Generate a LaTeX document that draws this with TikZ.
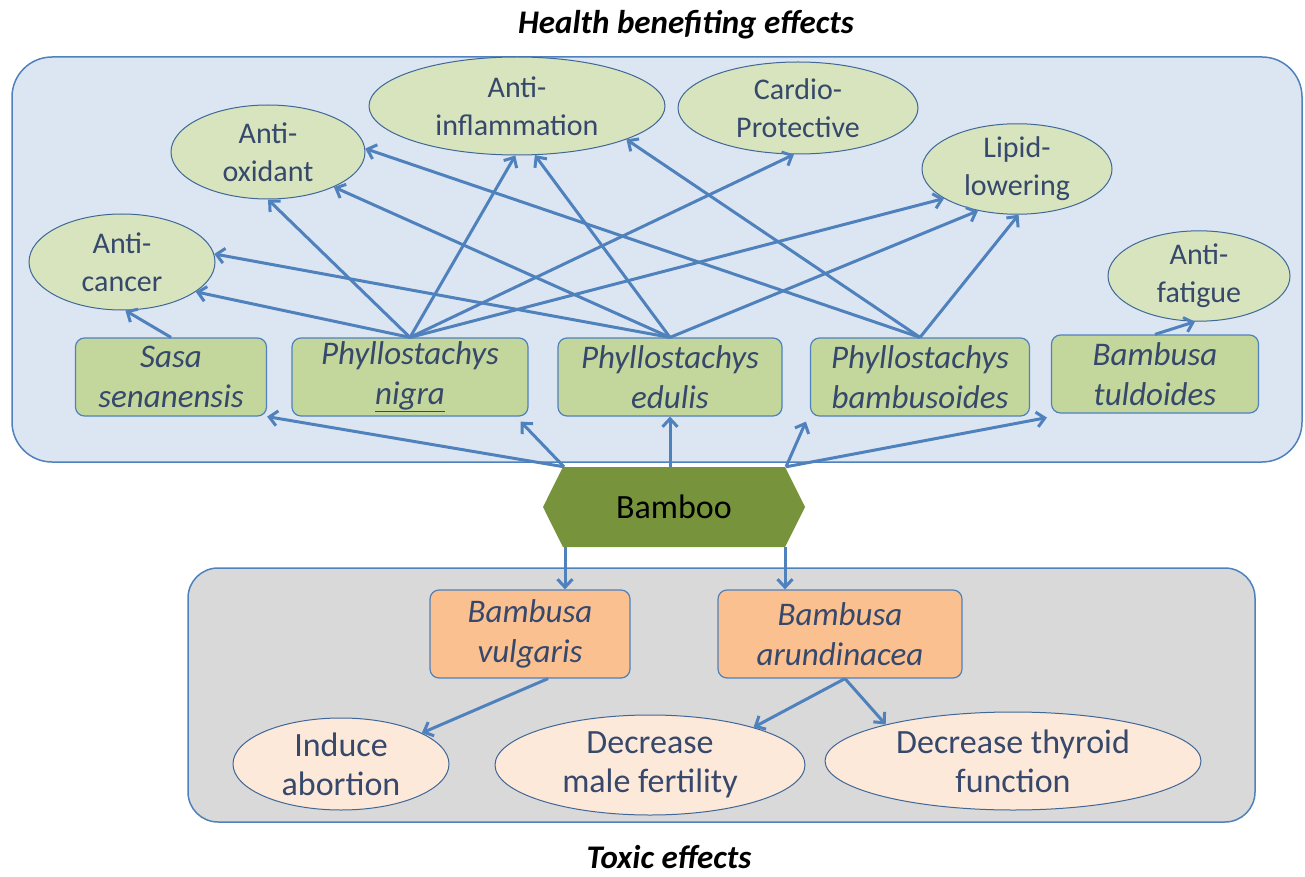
\documentclass[tikz,border=0pt]{standalone}
\usepackage{fontspec}
\setmainfont{Carlito}
\usetikzlibrary{shapes.geometric, shapes.symbols, arrows.meta, calc}

\definecolor{topfill}{HTML}{DCE6F2}
\definecolor{botfill}{HTML}{D9D9D9}
\definecolor{frameblue}{HTML}{4F81BD}
\definecolor{effgreen}{HTML}{D7E4BD}
\definecolor{spgreen}{HTML}{C3D69B}
\definecolor{sporange}{HTML}{FAC090}
\definecolor{toxpeach}{HTML}{FDE9D9}
\definecolor{bamboogreen}{HTML}{77933C}
\definecolor{txt}{HTML}{36486B}

\begin{document}
\begin{tikzpicture}[x=1pt, y=-1pt]
        \tikzstyle{panel} = [draw = frameblue, line width = 1.5pt]
        \tikzstyle{effect} = [ellipse, draw = frameblue!80!black, line width = 1pt, fill = effgreen, text = txt, align = center, inner sep = 0pt, font = \fontsize{30}{38}\selectfont]
        \tikzstyle{toxic} = [effect, fill = toxpeach, font = \fontsize{34}{39}\selectfont]
        \tikzstyle{species} = [rectangle, rounded corners = 9pt, draw = frameblue, line width = 1.2pt, fill = spgreen, text = txt, align = center, minimum height = 78pt, inner sep = 0pt, font = \fontsize{33}{40}\selectfont\itshape]
        \tikzstyle{harmful} = [species, fill = sporange, minimum height = 88pt]
        \tikzstyle{title} = [font = \fontsize{33}{36}\selectfont\bfseries\itshape]
        \tikzstyle{connect} = [-{Straight Barb[length = 8pt, width = 15pt]}, line width = 3pt, draw = frameblue]
        \useasboundingbox (0,0) rectangle (1305,877);
        % panels
        \draw[panel, fill = topfill, rounded corners = 40pt] (12,57) rectangle (1302,462);
        \draw[panel, fill = botfill, rounded corners = 30pt] (188,568) rectangle (1255,822);
        \node[title] (health) at (686,25) {Health benefiting effects};
        \node[title] (toxiceff) at (669,857) {Toxic effects};
        % health effects
        \node[effect, minimum width = 186pt, minimum height = 96pt] (anticancer) at (122,262) {Anti-\\cancer};
        \node[effect, minimum width = 194pt, minimum height = 94pt] (antioxidant) at (268,152) {Anti-\\oxidant};
        \node[effect, minimum width = 296pt, minimum height = 98pt] (antiinflam) at (517,106) {Anti-\\inflammation};
        \node[effect, minimum width = 240pt, minimum height = 92pt] (cardio) at (798,108) {Cardio-\\Protective};
        \node[effect, minimum width = 190pt, minimum height = 86pt] (lipid) at (1017,169) {Lipid-\\lowering};
        \node[effect, minimum width = 182pt, minimum height = 88pt] (antifatigue) at (1199,276) {Anti-\\fatigue};
        % species
        \node[species, minimum width = 191pt] (sasa) at (171,377) {Sasa\\senanensis};
        \node[species, minimum width = 236pt] (nigra) at (410,377) {Phyllostachys\\\underline{nigra}};
        \node[species, minimum width = 224pt] (edulis) at (670,377) {Phyllostachys\\edulis};
        \node[species, minimum width = 219pt] (bambusoides) at (920,377) {Phyllostachys\\bambusoides};
        \node[species, minimum width = 207pt] (tuldoides) at (1155,374) {Bambusa\\tuldoides};
        % bamboo
        \node[signal, signal to = west and east, signal pointer angle = 127, fill = bamboogreen, minimum width = 262pt, minimum height = 80pt, font = \fontsize{34}{38}\selectfont] (bamboo) at (674,507) {Bamboo};
        \coordinate (bnw) at ($(bamboo.north)+(-110,0)$);
        \coordinate (bne) at ($(bamboo.north)+(112,0)$);
        \coordinate (bn) at (edulis.south |- bamboo.north);
        \coordinate (bsw) at ($(bamboo.south)+(-109,0)$);
        \coordinate (bse) at ($(bamboo.south)+(111,0)$);
        % toxic side
        \node[harmful, minimum width = 200pt] (vulgaris) at (530,634) {Bambusa\\vulgaris};
        \node[harmful, minimum width = 244pt] (arundinacea) at (840,634) {Bambusa\\arundinacea};
        \node[toxic, minimum width = 216pt, minimum height = 92pt] (abortion) at (341,764) {Induce\\abortion};
        \node[toxic, minimum width = 310pt, minimum height = 100pt] (fertility) at (650,765) {Decrease\\male fertility};
        \node[toxic, minimum width = 376pt, minimum height = 98pt] (thyroid) at (1013,761) {Decrease thyroid\\function};
        % connections
        \path (bnw) edge [connect] (sasa.south east)
              (bnw) edge [connect] ($(nigra.south east)+(-8,5)$)
              (bn) edge [connect] (edulis.south)
              (bne) edge [connect] ($(bambusoides.south west)+(-4,5)$)
              (bne) edge [connect] ($(tuldoides.south west)+(-4,4)$);
        \path (sasa.north) edge [connect] (anticancer.-86)
              (nigra.north) edge [connect] (anticancer.-22)
              (nigra.north) edge [connect] (antioxidant.-90)
              (nigra.north) edge [connect] (antiinflam.-92)
              (nigra.north) edge [connect] (cardio.-95)
              (nigra.north) edge [connect] (lipid.-158)
              (edulis.north) edge [connect] (anticancer.5)
              (edulis.north) edge [connect] (antioxidant.-28)
              (edulis.north) edge [connect] (antiinflam.-70)
              (edulis.north) edge [connect] (lipid.-133)
              (bambusoides.north) edge [connect] (antioxidant.2)
              (bambusoides.north) edge [connect] (antiinflam.-17)
              (bambusoides.north) edge [connect] (lipid.-88)
              (tuldoides.north) edge [connect] (antifatigue.-95);
        \path (bsw) edge [connect] (bsw |- vulgaris.north)
              (bse) edge [connect] (bse |- arundinacea.north)
              ($(vulgaris.south)+(18,0)$) edge [connect] (abortion.21)
              ($(arundinacea.south)+(5,0)$) edge [connect] (fertility.20)
              ($(arundinacea.south)+(5,0)$) edge [connect] (thyroid.164);
      \end{tikzpicture}
\end{document}
